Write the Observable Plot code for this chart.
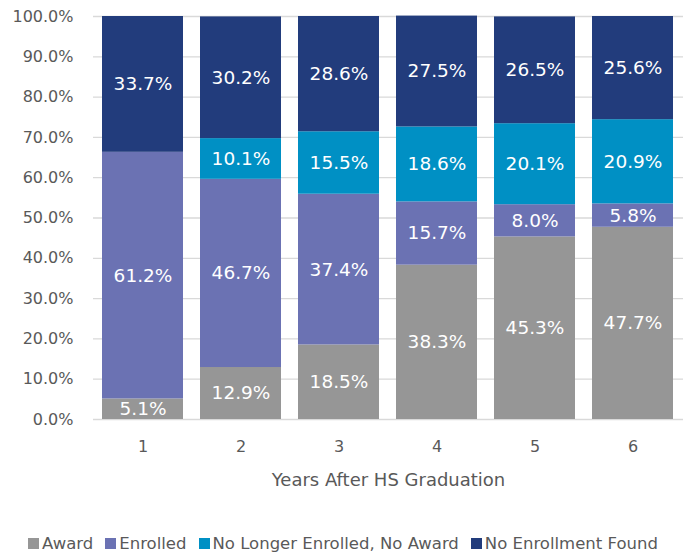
<!DOCTYPE html>
<html>
<head>
<meta charset="utf-8">
<script src="https://cdn.jsdelivr.net/npm/d3@7"></script>
<script src="https://cdn.jsdelivr.net/npm/@observablehq/plot@0.6"></script>
<style>
body { margin: 0; background: #fff; font-family: "DejaVu Sans", sans-serif; }
#legend { display: flex; justify-content: center; gap: 12px; font-size: 16.5px; color: #595959; margin-top: 12px; }
#legend span.sw { display: inline-block; width: 11px; height: 11px; margin-right: 3px; }
</style>
</head>
<body>
<div id="chart"></div>
<div id="legend"></div>
<script>
const years = ["1", "2", "3", "4", "5", "6"];
const series = ["Award", "Enrolled", "No Longer Enrolled, No Award", "No Enrollment Found"];
const colors = ["#969696", "#6b72b3", "#0090c4", "#223c7c"];
const award = [5.1, 12.9, 18.5, 38.3, 45.3, 47.7];
const enrolled = [61.2, 46.7, 37.4, 15.7, 8.0, 5.8];
const noLonger = [0, 10.1, 15.5, 18.6, 20.1, 20.9];
const noEnroll = [33.7, 30.2, 28.6, 27.5, 26.5, 25.6];
const yTicks = [0, 10, 20, 30, 40, 50, 60, 70, 80, 90, 100];

const values = [award, enrolled, noLonger, noEnroll];
const rows = years.flatMap((y, i) => series.map((s, j) => ({year: y, series: s, value: values[j][i]})));

const chart = Plot.plot({
  width: 686,
  height: 522,
  marginTop: 16,
  marginBottom: 103,
  marginLeft: 93,
  marginRight: 3,
  style: {fontFamily: "DejaVu Sans, sans-serif", fontSize: "16px", color: "#595959", background: "#fff"},
  x: {domain: years, paddingInner: 0.17, paddingOuter: 0.085, label: null},
  y: {domain: [0, 100], label: null},
  color: {domain: series, range: colors},
  marks: [
    Plot.ruleY(yTicks, {stroke: "#d9d9d9", strokeWidth: 1.3}),
    Plot.barY(rows, {x: "year", y: "value", fill: "series"}),
    Plot.text(rows, Plot.stackY({x: "year", y: "value", text: d => d.value > 0 ? d.value.toFixed(1) + "%" : null, fill: "white", fontSize: 18.5})),
    Plot.axisY({ticks: yTicks, tickSize: 0, tickPadding: 20, tickFormat: d => d.toFixed(1) + "%", fontSize: 16, fill: "#595959", label: null}),
    Plot.axisX({tickSize: 0, tickPadding: 21, fontSize: 16, fill: "#595959", label: null}),
    Plot.text(["Years After HS Graduation"], {frameAnchor: "bottom", dy: 66, fontSize: 18, fill: "#595959"})
  ]
});
document.getElementById("chart").appendChild(chart);

const legend = document.getElementById("legend");
series.forEach((s, i) => {
  const item = document.createElement("div");
  item.innerHTML = `<span class="sw" style="background:${colors[i]}"></span>${s}`;
  legend.appendChild(item);
});
</script>
</body>
</html>
